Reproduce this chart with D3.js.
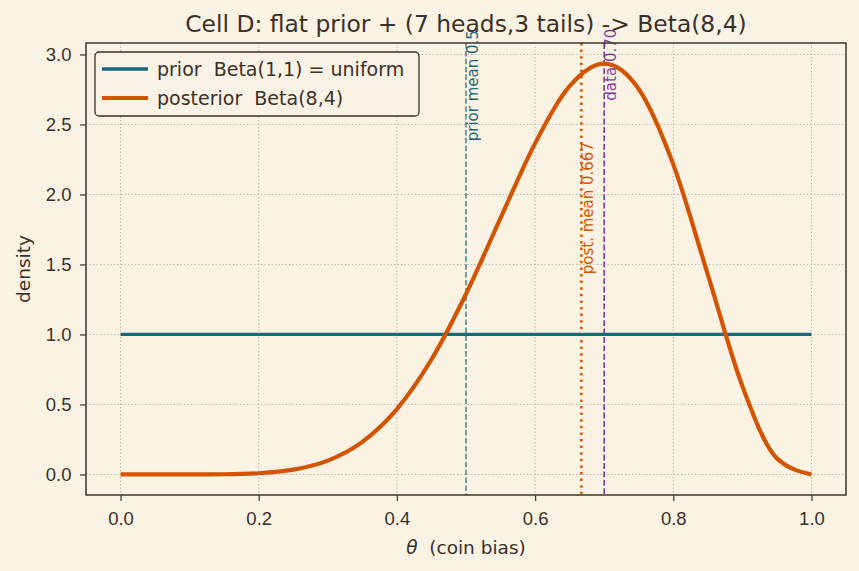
<!DOCTYPE html>
<meta charset="utf-8">
<head>
<style>
  body { margin: 0; background: #faf3e4; }
  svg { display: block; font-family: "DejaVu Sans", sans-serif; }
  text { white-space: pre; }
  .tick text { fill: #3a3028; font-size: 18.5px; }
  .tick line { stroke: #4a4034; stroke-width: 1.3; }
  .axis path { display: none; }
  .grid line { stroke: #b9b0a0; stroke-width: 1; stroke-dasharray: 1.3,2.2; }
</style>
</head>
<body>
<script src="https://cdn.jsdelivr.net/npm/d3@7"></script>
<script>
// data
var theta = [0, 0.05, 0.1, 0.15, 0.2, 0.25, 0.3, 0.35, 0.4, 0.45, 0.5,
             0.55, 0.6, 0.65, 0.7, 0.75, 0.8, 0.85, 0.9, 0.95, 1.0];
var posterior = [0, 0, 0.0001, 0.0014, 0.0087, 0.034, 0.099, 0.233, 0.467, 0.821, 1.289,
                 1.831, 2.365, 2.774, 2.935, 2.753, 2.215, 1.428, 0.631, 0.115, 0];
var priorX = [0, 1];
var priorY = [1, 1];
var priorMean = 0.5, postMean = 0.667, dataProp = 0.70;
var xTicks = [0, 0.2, 0.4, 0.6, 0.8, 1.0];
var yTicks = [0, 0.5, 1.0, 1.5, 2.0, 2.5, 3.0];

var W = 859, H = 571;
var margin = { top: 43, right: 13, bottom: 76, left: 86 },
    width = W - margin.left - margin.right,
    height = H - margin.top - margin.bottom;

var cPrior = "#1b6878", cPost = "#d35400", cData = "#7d3c98", ink = "#3a3028", spine = "#4a4034";

var svg = d3.select("body").append("svg")
    .attr("width", W).attr("height", H);
svg.append("rect").attr("width", W).attr("height", H).attr("fill", "#faf3e4");

var g = svg.append("g")
    .attr("transform", "translate(" + margin.left + "," + margin.top + ")");

var x = d3.scaleLinear().domain([-0.05, 1.05]).range([0, width]);
var y = d3.scaleLinear().domain([-0.1468, 3.0819]).range([height, 0]);

// grid
g.append("g").attr("class", "grid")
    .selectAll("line").data(xTicks).enter().append("line")
    .attr("x1", d => x(d)).attr("x2", d => x(d)).attr("y1", 0).attr("y2", height);
g.append("g").attr("class", "grid")
    .selectAll("line").data(yTicks).enter().append("line")
    .attr("y1", d => y(d)).attr("y2", d => y(d)).attr("x1", 0).attr("x2", width);

// axes
g.append("g").attr("class", "axis")
    .attr("transform", "translate(0," + height + ")")
    .call(d3.axisBottom(x).tickValues(xTicks).tickFormat(d3.format(".1f")).tickSizeOuter(0).tickSize(6).tickPadding(10.5));
g.append("g").attr("class", "axis")
    .call(d3.axisLeft(y).tickValues(yTicks).tickFormat(d3.format(".1f")).tickSizeOuter(0).tickSize(6).tickPadding(8.5));

// vertical reference lines
g.append("line")
    .attr("x1", x(priorMean)).attr("x2", x(priorMean)).attr("y1", 0).attr("y2", height)
    .attr("stroke", cPrior).attr("stroke-opacity", 0.8).attr("stroke-width", 1.5)
    .attr("stroke-dasharray", "5.5,2.4");
g.append("line")
    .attr("x1", x(postMean)).attr("x2", x(postMean)).attr("y1", 0).attr("y2", height)
    .attr("stroke", cPost).attr("stroke-width", 2.5)
    .attr("stroke-dasharray", "2.5,4.1");
g.append("line")
    .attr("x1", x(dataProp)).attr("x2", x(dataProp)).attr("y1", 0).attr("y2", height)
    .attr("stroke", cData).attr("stroke-width", 1.6)
    .attr("stroke-dasharray", "5.9,2.5");

// curves
var line = d3.line().x(d => x(d[0])).y(d => y(d[1]));
g.append("path")
    .datum(d3.zip(priorX, priorY))
    .attr("fill", "none").attr("stroke", cPrior).attr("stroke-width", 3.3)
    .attr("d", line);
g.append("path")
    .datum(d3.zip(theta, posterior))
    .attr("fill", "none").attr("stroke", cPost).attr("stroke-width", 4.2)
    .attr("stroke-linejoin", "round")
    .attr("d", line.curve(d3.curveMonotoneX));

// rotated labels
function vlabel(xv, yv, txt, col) {
    g.append("text")
        .attr("transform", "translate(" + (x(xv) + 11.5) + "," + y(yv) + ") rotate(-90)")
        .attr("fill", col).attr("font-size", "15px")
        .text(txt);
}
vlabel(priorMean, 2.38, "prior mean 0.5", cPrior);
vlabel(postMean, 1.43, "post. mean 0.667", cPost);
vlabel(dataProp, 2.67, "data 0.70", cData);

// frame
g.append("rect").attr("width", width).attr("height", height)
    .attr("fill", "none").attr("stroke", spine).attr("stroke-width", 1.6);

// legend
var lg = g.append("g").attr("transform", "translate(9,9)");
lg.append("rect").attr("width", 324).attr("height", 64).attr("rx", 4)
    .attr("fill", "#faf3e4").attr("fill-opacity", 0.9)
    .attr("stroke", ink).attr("stroke-width", 1.3);
var items = [
    { label: "prior  Beta(1,1) = uniform", color: cPrior, w: 3.3 },
    { label: "posterior  Beta(8,4)", color: cPost, w: 4.2 }
];
items.forEach(function (it, i) {
    var cy = 17 + i * 29;
    lg.append("line").attr("x1", 7).attr("x2", 53).attr("y1", cy).attr("y2", cy)
        .attr("stroke", it.color).attr("stroke-width", it.w);
    lg.append("text").attr("x", 62).attr("y", cy + 7).attr("fill", ink)
        .attr("font-size", "19px").text(it.label);
});

// title and axis labels
svg.append("text").attr("x", margin.left + width / 2).attr("y", 32)
    .attr("text-anchor", "middle").attr("fill", ink).attr("font-size", "23.4px")
    .text("Cell D: flat prior + (7 heads,3 tails) -> Beta(8,4)");
var xl = svg.append("text").attr("x", margin.left + width / 2).attr("y", 554)
    .attr("text-anchor", "middle").attr("fill", ink).attr("font-size", "18.5px");
xl.append("tspan").attr("font-style", "italic").text("θ");
xl.append("tspan").text("  (coin bias)");
svg.append("text")
    .attr("transform", "translate(30," + (margin.top + height / 2) + ") rotate(-90)")
    .attr("text-anchor", "middle").attr("fill", ink).attr("font-size", "18.5px")
    .text("density");
</script>
</body>
